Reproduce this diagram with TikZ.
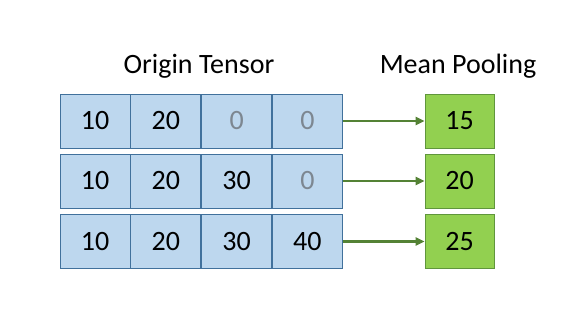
\documentclass[tikz,border=0pt]{standalone}
\usepackage{fontspec}
\setmainfont{Carlito}
\usepackage{tikz}
\usetikzlibrary{arrows.meta, positioning, calc}
\definecolor{CellBlue}{RGB}{189, 215, 238}
\definecolor{CellEdge}{RGB}{65, 113, 156}
\definecolor{PoolGreen}{RGB}{146, 208, 80}
\definecolor{PoolEdge}{RGB}{96, 150, 60}
\definecolor{ArrowGreen}{RGB}{84, 130, 53}
\definecolor{PadGray}{RGB}{125, 135, 145}

\begin{document}
\begin{tikzpicture}[
    x=1pt, y=1pt,
    cell/.style={rectangle, draw=CellEdge, fill=CellBlue, line width=0.8pt, minimum width=70pt, minimum height=54pt, inner sep=0pt, font=\fontsize{28}{30}\selectfont},
    pad/.style={cell, text=PadGray},
    pool/.style={rectangle, draw=PoolEdge, fill=PoolGreen, line width=0.8pt, minimum width=69pt, minimum height=54pt, inner sep=0pt, font=\fontsize{28}{30}\selectfont},
    title/.style={anchor=base, font=\fontsize{28}{30}\selectfont},
    arrow/.style={-{Triangle[length=9pt, width=8pt]}, line width=2.2pt, color=ArrowGreen}
]
    \useasboundingbox (0,0) rectangle (574,309);

    % Titel
    \node[title] (origin) at (199,236) {Origin Tensor};
    \node[title] (mean) at (458,236) {Mean Pooling};

    % Zeile 1
    \node[cell] (a1) at (95,188) {10};
    \node[cell, right=0pt of a1] (a2) {20};
    \node[pad, right=0pt of a2] (a3) {0};
    \node[pad, right=0pt of a3] (a4) {0};

    % Zeile 2
    \node[cell] (b1) at (95,128) {10};
    \node[cell, right=0pt of b1] (b2) {20};
    \node[cell, right=0pt of b2] (b3) {30};
    \node[pad, right=0pt of b3] (b4) {0};

    % Zeile 3
    \node[cell] (c1) at (95,67.5) {10};
    \node[cell, right=0pt of c1] (c2) {20};
    \node[cell, right=0pt of c2] (c3) {30};
    \node[cell, right=0pt of c3] (c4) {40};

    % Pooling
    \node[pool] (m1) at (459.5,188) {15};
    \node[pool] (m2) at (459.5,128) {20};
    \node[pool] (m3) at (459.5,67.5) {25};

    % Pfeile
    \draw[arrow] (a4.east) -- (m1.west);
    \draw[arrow] (b4.east) -- (m2.west);
    \draw[arrow] (c4.east) -- (m3.west);
\end{tikzpicture}
\end{document}
